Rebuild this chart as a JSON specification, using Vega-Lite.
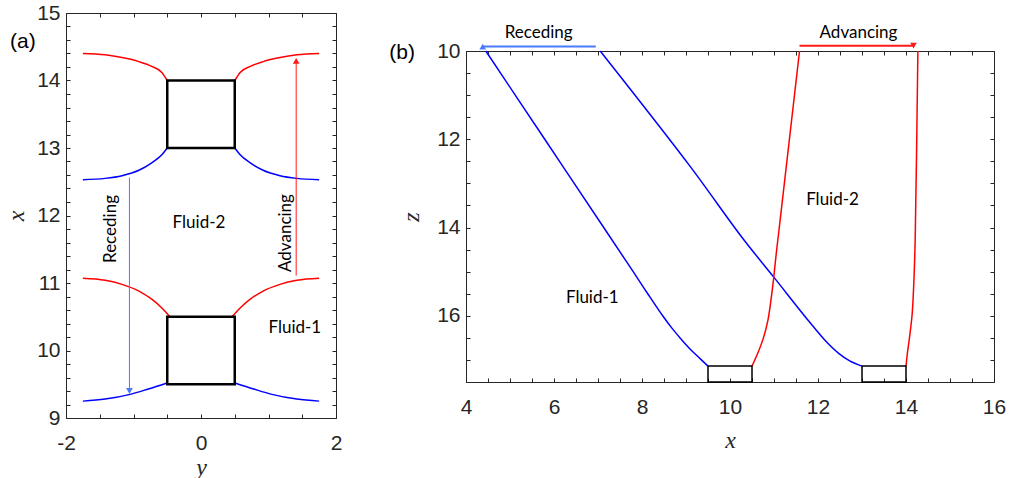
{
  "$schema": "https://vega.github.io/schema/vega-lite/v6.json",
  "background": "white",
  "padding": {"left": 4, "top": 1, "right": 0, "bottom": 0},
  "spacing": 45,
  "config": {
    "view": {"stroke": "#262626", "strokeWidth": 1},
    "axis": {"grid": false, "domain": false, "labelFlush": false, "tickColor": "#262626", "tickSize": -4, "labelColor": "#262626", "labelFont": "Liberation Sans", "labelFontSize": 21, "titleFont": "Liberation Serif", "titleFontStyle": "italic", "titleFontWeight": "normal", "titleFontSize": 24, "titleColor": "#262626"},
    "axisBottom": {"labelPadding": 18},
    "axisLeft": {"labelPadding": 10}
  },
  "datasets": {
    "a_curves": [
      {"c":"A1","k":"adv","h":-1.75,"v":14.40},{"c":"A1","k":"adv","h":-1.42,"v":14.38},{"c":"A1","k":"adv","h":-1.17,"v":14.34},{"c":"A1","k":"adv","h":-0.92,"v":14.28},{"c":"A1","k":"adv","h":-0.73,"v":14.21},{"c":"A1","k":"adv","h":-0.58,"v":14.12},{"c":"A1","k":"adv","h":-0.5,"v":14.0},
      {"c":"A2","k":"adv","h":0.5,"v":14.0},{"c":"A2","k":"adv","h":0.58,"v":14.12},{"c":"A2","k":"adv","h":0.73,"v":14.21},{"c":"A2","k":"adv","h":0.92,"v":14.28},{"c":"A2","k":"adv","h":1.17,"v":14.34},{"c":"A2","k":"adv","h":1.42,"v":14.38},{"c":"A2","k":"adv","h":1.75,"v":14.40},
      {"c":"A3","k":"rec","h":-1.75,"v":12.53},{"c":"A3","k":"rec","h":-1.42,"v":12.55},{"c":"A3","k":"rec","h":-1.17,"v":12.59},{"c":"A3","k":"rec","h":-0.92,"v":12.67},{"c":"A3","k":"rec","h":-0.73,"v":12.78},{"c":"A3","k":"rec","h":-0.58,"v":12.9},{"c":"A3","k":"rec","h":-0.5,"v":13.0},
      {"c":"A4","k":"rec","h":0.5,"v":13.0},{"c":"A4","k":"rec","h":0.58,"v":12.9},{"c":"A4","k":"rec","h":0.73,"v":12.78},{"c":"A4","k":"rec","h":0.92,"v":12.67},{"c":"A4","k":"rec","h":1.17,"v":12.59},{"c":"A4","k":"rec","h":1.42,"v":12.55},{"c":"A4","k":"rec","h":1.75,"v":12.53},
      {"c":"A5","k":"adv","h":-1.75,"v":11.07},{"c":"A5","k":"adv","h":-1.42,"v":11.04},{"c":"A5","k":"adv","h":-1.17,"v":10.98},{"c":"A5","k":"adv","h":-0.92,"v":10.88},{"c":"A5","k":"adv","h":-0.73,"v":10.76},{"c":"A5","k":"adv","h":-0.58,"v":10.63},{"c":"A5","k":"adv","h":-0.46,"v":10.5},
      {"c":"A6","k":"adv","h":0.46,"v":10.5},{"c":"A6","k":"adv","h":0.58,"v":10.63},{"c":"A6","k":"adv","h":0.73,"v":10.76},{"c":"A6","k":"adv","h":0.92,"v":10.88},{"c":"A6","k":"adv","h":1.17,"v":10.98},{"c":"A6","k":"adv","h":1.42,"v":11.04},{"c":"A6","k":"adv","h":1.75,"v":11.07},
      {"c":"A7","k":"rec","h":-1.75,"v":9.25},{"c":"A7","k":"rec","h":-1.42,"v":9.28},{"c":"A7","k":"rec","h":-1.05,"v":9.35},{"c":"A7","k":"rec","h":-0.78,"v":9.43},{"c":"A7","k":"rec","h":-0.5,"v":9.52},
      {"c":"A8","k":"rec","h":0.5,"v":9.52},{"c":"A8","k":"rec","h":0.78,"v":9.43},{"c":"A8","k":"rec","h":1.05,"v":9.35},{"c":"A8","k":"rec","h":1.42,"v":9.28},{"c":"A8","k":"rec","h":1.75,"v":9.25}
    ],
    "a_boxes": [
      {"h1":-0.5,"h2":0.5,"v1":13.0,"v2":14.0},
      {"h1":-0.5,"h2":0.5,"v1":9.5,"v2":10.5}
    ],
    "a_arrows": [
      {"k":"rec","h":-1.06,"v1":12.56,"v2":9.42,"vh":9.40,"dir":"down"},
      {"k":"adv","h":1.41,"v1":11.11,"v2":14.27,"vh":14.29,"dir":"up"}
    ],
    "a_text": [
      {"t":"Fluid-2","h":-0.03,"v":11.89},
      {"t":"Fluid-1","h":1.39,"v":10.33}
    ],
    "a_vtext": [
      {"t":"Receding","h":-1.33,"v":11.8},
      {"t":"Advancing","h":1.26,"v":11.74}
    ],
    "a_label": [{"t":"(a)","h":-2.64,"v":14.57}],
    "b_curves": [
      {"c":"B1","k":"rec","x":4.45,"z":10.0},{"c":"B1","k":"rec","x":5.79,"z":12.0},{"c":"B1","k":"rec","x":7.13,"z":14.0},{"c":"B1","k":"rec","x":7.8,"z":15.0},{"c":"B1","k":"rec","x":8.13,"z":15.5},{"c":"B1","k":"rec","x":8.47,"z":16.0},{"c":"B1","k":"rec","x":8.68,"z":16.28},{"c":"B1","k":"rec","x":8.9,"z":16.54},{"c":"B1","k":"rec","x":9.12,"z":16.78},{"c":"B1","k":"rec","x":9.32,"z":16.97},{"c":"B1","k":"rec","x":9.5,"z":17.14},
      {"c":"B2","k":"rec","x":7.05,"z":10.0},{"c":"B2","k":"rec","x":9.06,"z":12.57},{"c":"B2","k":"rec","x":10.27,"z":14.22},{"c":"B2","k":"rec","x":11.0,"z":15.13},{"c":"B2","k":"rec","x":11.79,"z":16.12},{"c":"B2","k":"rec","x":12.2,"z":16.6},{"c":"B2","k":"rec","x":12.47,"z":16.85},{"c":"B2","k":"rec","x":12.72,"z":17.02},{"c":"B2","k":"rec","x":13.0,"z":17.14},
      {"c":"B3","k":"adv","x":11.58,"z":10.0},{"c":"B3","k":"adv","x":11.12,"z":14.0},{"c":"B3","k":"adv","x":11.05,"z":14.6},{"c":"B3","k":"adv","x":10.99,"z":15.17},{"c":"B3","k":"adv","x":10.93,"z":15.65},{"c":"B3","k":"adv","x":10.86,"z":16.11},{"c":"B3","k":"adv","x":10.76,"z":16.5},{"c":"B3","k":"adv","x":10.63,"z":16.85},{"c":"B3","k":"adv","x":10.5,"z":17.14},
      {"c":"B4","k":"adv","x":14.27,"z":10.0},{"c":"B4","k":"adv","x":14.21,"z":14.21},{"c":"B4","k":"adv","x":14.18,"z":15.2},{"c":"B4","k":"adv","x":14.14,"z":15.96},{"c":"B4","k":"adv","x":14.08,"z":16.49},{"c":"B4","k":"adv","x":14.03,"z":16.86},{"c":"B4","k":"adv","x":14.0,"z":17.14}
    ],
    "b_boxes": [
      {"x1":9.5,"x2":10.5,"z1":17.14,"z2":17.5},
      {"x1":13.0,"x2":14.0,"z1":17.14,"z2":17.5}
    ],
    "b_arrows": [
      {"k":"rec","x1":6.95,"x2":4.4,"xh":4.38,"z":9.9,"dir":"left"},
      {"k":"adv","x1":11.58,"x2":14.15,"xh":14.17,"z":9.88,"dir":"right"}
    ],
    "b_text": [
      {"t":"Receding","x":5.65,"z":9.59},
      {"t":"Advancing","x":12.92,"z":9.59},
      {"t":"Fluid-1","x":6.87,"z":15.6},
      {"t":"Fluid-2","x":12.33,"z":13.38}
    ],
    "b_label": [{"t":"(b)","x":2.55,"z":10.04}],
    "spacer": [{"t":""}]
  },
  "hconcat": [
    {
      "width": 270,
      "height": 405,
      "resolve": {"axis": {"x": "independent", "y": "independent"}},
      "layer": [
        {
          "data": {"name": "a_curves"},
          "mark": {"type": "line", "strokeWidth": 1.5, "interpolate": "monotone"},
          "encoding": {
            "x": {"field": "h", "type": "quantitative", "scale": {"domain": [-2, 2], "nice": false, "zero": false},
                  "axis": {"orient": "bottom", "title": "y", "titlePadding": 2, "values": [-2,-1.5,-1,-0.5,0,0.5,1,1.5,2], "labelExpr": "datum.value % 2 == 0 ? '' + datum.value : ''"}},
            "y": {"field": "v", "type": "quantitative", "scale": {"domain": [9, 15], "nice": false, "zero": false},
                  "axis": {"orient": "left", "title": "x", "titlePadding": 8, "values": [9,9.2,9.4,9.6,9.8,10,10.2,10.4,10.6,10.8,11,11.2,11.4,11.6,11.8,12,12.2,12.4,12.6,12.8,13,13.2,13.4,13.6,13.8,14,14.2,14.4,14.6,14.8,15], "labelExpr": "datum.value % 1 == 0 ? '' + datum.value : ''"}},
            "detail": {"field": "c"},
            "color": {"field": "k", "type": "nominal", "scale": {"domain": ["adv", "rec"], "range": ["#ff0000", "#0000ff"]}, "legend": null}
          }
        },
        {
          "data": {"name": "a_boxes"},
          "mark": {"type": "rect", "fill": null, "stroke": "#000000", "strokeWidth": 2.5},
          "encoding": {
            "x": {"field": "h1", "type": "quantitative", "axis": {"orient": "top", "labels": false, "title": null, "values": [-2,-1.5,-1,-0.5,0,0.5,1,1.5,2]}},
            "x2": {"field": "h2"},
            "y": {"field": "v1", "type": "quantitative", "axis": {"orient": "right", "labels": false, "title": null, "values": [9,9.2,9.4,9.6,9.8,10,10.2,10.4,10.6,10.8,11,11.2,11.4,11.6,11.8,12,12.2,12.4,12.6,12.8,13,13.2,13.4,13.6,13.8,14,14.2,14.4,14.6,14.8,15]}},
            "y2": {"field": "v2"}
          }
        },
        {
          "data": {"name": "a_arrows"},
          "mark": {"type": "rule", "strokeWidth": 1},
          "encoding": {
            "x": {"field": "h", "type": "quantitative", "axis": null},
            "y": {"field": "v1", "type": "quantitative", "axis": null},
            "y2": {"field": "v2"},
            "stroke": {"field": "k", "type": "nominal", "scale": {"domain": ["adv", "rec"], "range": ["#ff1a1a", "#4a7bff"]}, "legend": null}
          }
        },
        {
          "data": {"name": "a_arrows"},
          "mark": {"type": "point", "filled": true, "opacity": 1, "size": 45},
          "encoding": {
            "x": {"field": "h", "type": "quantitative", "axis": null},
            "y": {"field": "vh", "type": "quantitative", "axis": null},
            "shape": {"field": "dir", "type": "nominal", "scale": {"domain": ["up", "down"], "range": ["triangle-up", "triangle-down"]}, "legend": null},
            "fill": {"field": "k", "type": "nominal", "scale": {"domain": ["adv", "rec"], "range": ["#ff1a1a", "#4a7bff"]}, "legend": null}
          }
        },
        {
          "data": {"name": "a_text"},
          "mark": {"type": "text", "font": "Lato", "fontSize": 17, "color": "#000000"},
          "encoding": {
            "x": {"field": "h", "type": "quantitative", "axis": null},
            "y": {"field": "v", "type": "quantitative", "axis": null},
            "text": {"field": "t"}
          }
        },
        {
          "data": {"name": "a_vtext"},
          "mark": {"type": "text", "font": "Lato", "fontSize": 17, "angle": 270, "color": "#000000"},
          "encoding": {
            "x": {"field": "h", "type": "quantitative", "axis": null},
            "y": {"field": "v", "type": "quantitative", "axis": null},
            "text": {"field": "t"}
          }
        },
        {
          "data": {"name": "a_label"},
          "mark": {"type": "text", "font": "Liberation Sans", "fontSize": 21, "color": "#000000"},
          "encoding": {
            "x": {"field": "h", "type": "quantitative", "axis": null},
            "y": {"field": "v", "type": "quantitative", "axis": null},
            "text": {"field": "t"}
          }
        }
      ]
    },
    {
      "bounds": "flush",
      "spacing": 0,
      "vconcat": [
        {
          "width": 528,
          "height": 38,
          "view": {"stroke": null},
          "data": {"name": "spacer"},
          "mark": {"type": "text"},
          "encoding": {"text": {"field": "t"}}
        },
        {
          "width": 528,
          "height": 331,
          "resolve": {"axis": {"x": "independent", "y": "independent"}},
          "layer": [
            {
              "data": {"name": "b_curves"},
              "mark": {"type": "line", "strokeWidth": 1.5, "interpolate": "catmull-rom"},
              "encoding": {
                "x": {"field": "x", "type": "quantitative", "scale": {"domain": [4, 16], "nice": false, "zero": false},
                      "axis": {"orient": "bottom", "title": "x", "titlePadding": 11, "values": [4,4.5,5,5.5,6,6.5,7,7.5,8,8.5,9,9.5,10,10.5,11,11.5,12,12.5,13,13.5,14,14.5,15,15.5,16], "labelExpr": "datum.value % 2 == 0 ? '' + datum.value : ''"}},
                "y": {"field": "z", "type": "quantitative", "scale": {"domain": [10, 17.5], "nice": false, "zero": false, "reverse": true},
                      "axis": {"orient": "left", "title": "z", "titlePadding": 13, "values": [10,10.5,11,11.5,12,12.5,13,13.5,14,14.5,15,15.5,16,16.5,17,17.5], "labelExpr": "datum.value % 2 == 0 ? '' + datum.value : ''"}},
                "detail": {"field": "c"},
                "order": {"field": "z", "type": "quantitative"},
                "color": {"field": "k", "type": "nominal", "scale": {"domain": ["adv", "rec"], "range": ["#ff0000", "#0000ff"]}, "legend": null}
              }
            },
            {
              "data": {"name": "b_boxes"},
              "mark": {"type": "rect", "fill": null, "stroke": "#000000", "strokeWidth": 1.5},
              "encoding": {
                "x": {"field": "x1", "type": "quantitative", "axis": {"orient": "top", "labels": false, "title": null, "values": [4,4.5,5,5.5,6,6.5,7,7.5,8,8.5,9,9.5,10,10.5,11,11.5,12,12.5,13,13.5,14,14.5,15,15.5,16]}},
                "x2": {"field": "x2"},
                "y": {"field": "z1", "type": "quantitative", "axis": {"orient": "right", "labels": false, "title": null, "values": [10,10.5,11,11.5,12,12.5,13,13.5,14,14.5,15,15.5,16,16.5,17,17.5]}},
                "y2": {"field": "z2"}
              }
            },
            {
              "data": {"name": "b_arrows"},
              "mark": {"type": "rule", "strokeWidth": 2},
              "encoding": {
                "x": {"field": "x1", "type": "quantitative", "axis": null},
                "x2": {"field": "x2"},
                "y": {"field": "z", "type": "quantitative", "axis": null},
                "stroke": {"field": "k", "type": "nominal", "scale": {"domain": ["adv", "rec"], "range": ["#ff1a1a", "#1a55ff"]}, "legend": null}
              }
            },
            {
              "data": {"name": "b_arrows"},
              "mark": {"type": "point", "filled": true, "opacity": 1, "size": 45},
              "encoding": {
                "x": {"field": "xh", "type": "quantitative", "axis": null},
                "y": {"field": "z", "type": "quantitative", "axis": null},
                "shape": {"field": "dir", "type": "nominal", "scale": {"domain": ["left", "right"], "range": ["triangle-left", "triangle-right"]}, "legend": null},
                "fill": {"field": "k", "type": "nominal", "scale": {"domain": ["adv", "rec"], "range": ["#ff1a1a", "#1a55ff"]}, "legend": null}
              }
            },
            {
              "data": {"name": "b_text"},
              "mark": {"type": "text", "font": "Lato", "fontSize": 17, "color": "#000000"},
              "encoding": {
                "x": {"field": "x", "type": "quantitative", "axis": null},
                "y": {"field": "z", "type": "quantitative", "axis": null},
                "text": {"field": "t"}
              }
            },
            {
              "data": {"name": "b_label"},
              "mark": {"type": "text", "font": "Liberation Sans", "fontSize": 21, "color": "#000000"},
              "encoding": {
                "x": {"field": "x", "type": "quantitative", "axis": null},
                "y": {"field": "z", "type": "quantitative", "axis": null},
                "text": {"field": "t"}
              }
            }
          ]
        }
      ]
    }
  ]
}
